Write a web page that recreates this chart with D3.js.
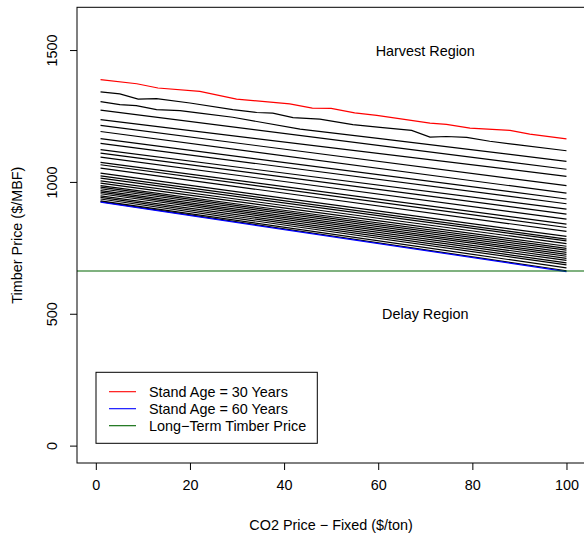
<!DOCTYPE html>
<html>
<head>
<meta charset="utf-8">
<script src="https://cdn.jsdelivr.net/npm/d3@7"></script>
<style>
  body { margin: 0; background: #fff; }
  text { font-family: "Liberation Sans", Arial, Helvetica, sans-serif; font-size: 14.4px; fill: #000; }
</style>
</head>
<body>
<div id="chart"></div>
<script>
// one line per stand age: first = 30 years (red), last = 60 years (blue)
const co2Ends = [1, 100];
const priceStart = [1390, 1343, 1306, 1274, 1238, 1216, 1193, 1166, 1148, 1124, 1111, 1096, 1076, 1067, 1054, 1035,
  1025, 1016, 1006, 997, 988, 982, 976, 969, 963, 957, 949, 943, 937, 930, 927, 925];
const priceEnd = [1165, 1120, 1080, 1050, 1023, 988, 959, 937, 919, 899, 880, 861, 842, 829, 814, 795,
  785, 778, 768, 758, 750, 743, 735, 727, 720, 712, 704, 695, 687, 676, 665, 662];

// lines where the kinks are visible
const age30Co2 = [1, 8.7, 13.2, 22.1, 29.9, 41.2, 46, 50, 55, 59.7, 71, 74.5, 79.5, 88, 92.2, 100];
const age30Price = [1390, 1374, 1358, 1345, 1316, 1298, 1282, 1281, 1264, 1254, 1225, 1220, 1206, 1197, 1183, 1165];
const age31Co2 = [1, 5.1, 9, 12.9, 20, 29.1, 34.2, 37.6, 41.9, 47.6, 54.6, 60.4, 67.1, 71, 74.5, 78.8, 83.7, 89.4, 100];
const age31Price = [1343, 1336, 1316, 1318, 1301, 1276, 1265, 1263, 1246, 1240, 1219, 1209, 1197, 1172, 1174, 1171, 1156, 1143, 1120];
const age32Co2 = [1, 5.1, 8.6, 12.9, 17.9, 22.1, 29.1, 43.4, 60.4, 100];
const age32Price = [1306, 1295, 1291, 1276, 1272, 1263, 1247, 1202, 1166, 1080];

const longTermPrice = 664;
const xTicks = [0, 20, 40, 60, 80, 100];
const yTicks = [0, 500, 1000, 1500];
const legendLabels = ["Stand Age = 30 Years", "Stand Age = 60 Years", "Long\u2212Term Timber Price"];
const legendColors = ["#ff0000", "#0000ff", "#006400"];

const W = 584, H = 534;
const plot = {left: 77, top: 7.3, right: 585.3, bottom: 463};

const svg = d3.select("#chart").append("svg")
  .attr("width", W).attr("height", H);

const x = d3.scaleLinear().domain([-4, 104]).range([plot.left, plot.right]);
const y = d3.scaleLinear().domain([-64, 1664]).range([plot.bottom, plot.top]);

// build the series
const series = priceStart.map((p, i) => co2Ends.map((c, j) => [c, j === 0 ? p : priceEnd[i]]));
series[0] = age30Co2.map((c, i) => [c, age30Price[i]]);
series[1] = age31Co2.map((c, i) => [c, age31Price[i]]);
series[2] = age32Co2.map((c, i) => [c, age32Price[i]]);

const line = d3.line().x(d => x(d[0])).y(d => y(d[1]));
const last = series.length - 1;

const g = svg.append("g");
series.forEach((s, i) => {
  if (i === 0 || i === last) return;
  g.append("path").attr("d", line(s))
    .attr("fill", "none").attr("stroke", "#000").attr("stroke-width", 1.2);
});
g.append("path").attr("d", line(series[0]))
  .attr("fill", "none").attr("stroke", legendColors[0]).attr("stroke-width", 1.2);
g.append("path").attr("d", line(series[last]))
  .attr("fill", "none").attr("stroke", legendColors[1]).attr("stroke-width", 1.2);

// long-term price (abline)
svg.append("line")
  .attr("x1", plot.left).attr("x2", plot.right)
  .attr("y1", y(longTermPrice)).attr("y2", y(longTermPrice))
  .attr("stroke", legendColors[2]).attr("stroke-width", 1.1);

// region labels
svg.append("text").attr("x", x(70)).attr("y", y(1500))
  .attr("text-anchor", "middle").attr("dominant-baseline", "central").text("Harvest Region");
svg.append("text").attr("x", x(70)).attr("y", y(500))
  .attr("text-anchor", "middle").attr("dominant-baseline", "central").text("Delay Region");

// axes
const xAxis = svg.append("g")
  .attr("transform", `translate(0,${plot.bottom})`)
  .call(d3.axisBottom(x).tickValues(xTicks).tickFormat(d3.format("d")).tickSize(7).tickPadding(10));
const yAxis = svg.append("g")
  .attr("transform", `translate(${plot.left},0)`)
  .call(d3.axisLeft(y).tickValues(yTicks).tickFormat(d3.format("d")).tickSize(7));
[xAxis, yAxis].forEach(a => {
  a.select(".domain").remove();
  a.selectAll("line").attr("stroke", "#000");
  a.attr("font-size", null).attr("font-family", null);
});
xAxis.selectAll("text").attr("dy", "0.71em");
yAxis.selectAll(".tick").attr("transform", null);
yAxis.selectAll(".tick line").attr("y1", d => y(d)).attr("y2", d => y(d)).attr("x2", -7);
yAxis.selectAll(".tick text")
  .attr("x", null).attr("dy", null)
  .attr("text-anchor", "middle").attr("dominant-baseline", "central")
  .attr("transform", d => `translate(${52 - plot.left},${y(d)}) rotate(-90)`);

// box
svg.append("rect")
  .attr("x", plot.left).attr("y", plot.top)
  .attr("width", plot.right - plot.left).attr("height", plot.bottom - plot.top)
  .attr("fill", "none").attr("stroke", "#000").attr("stroke-width", 1);

// axis titles
svg.append("text").attr("x", (plot.left + plot.right) / 2).attr("y", 525)
  .attr("text-anchor", "middle").attr("dominant-baseline", "central")
  .text("CO2 Price \u2212 Fixed ($/ton)");
svg.append("text")
  .attr("transform", `translate(17,${(plot.top + plot.bottom) / 2}) rotate(-90)`)
  .attr("text-anchor", "middle").attr("dominant-baseline", "central")
  .text("Timber Price ($/MBF)");

// legend
const lg = svg.append("g");
lg.append("rect").attr("x", 96).attr("y", 372.3).attr("width", 221.3).attr("height", 71)
  .attr("fill", "#fff").attr("stroke", "#000").attr("stroke-width", 1);
legendLabels.forEach((lab, i) => {
  const ry = 391.7 + i * 17;
  lg.append("line").attr("x1", 109).attr("x2", 136).attr("y1", ry).attr("y2", ry)
    .attr("stroke", legendColors[i]).attr("stroke-width", 1.1);
  lg.append("text").attr("x", 149).attr("y", ry).attr("dominant-baseline", "central").text(lab);
});
</script>
</body>
</html>
